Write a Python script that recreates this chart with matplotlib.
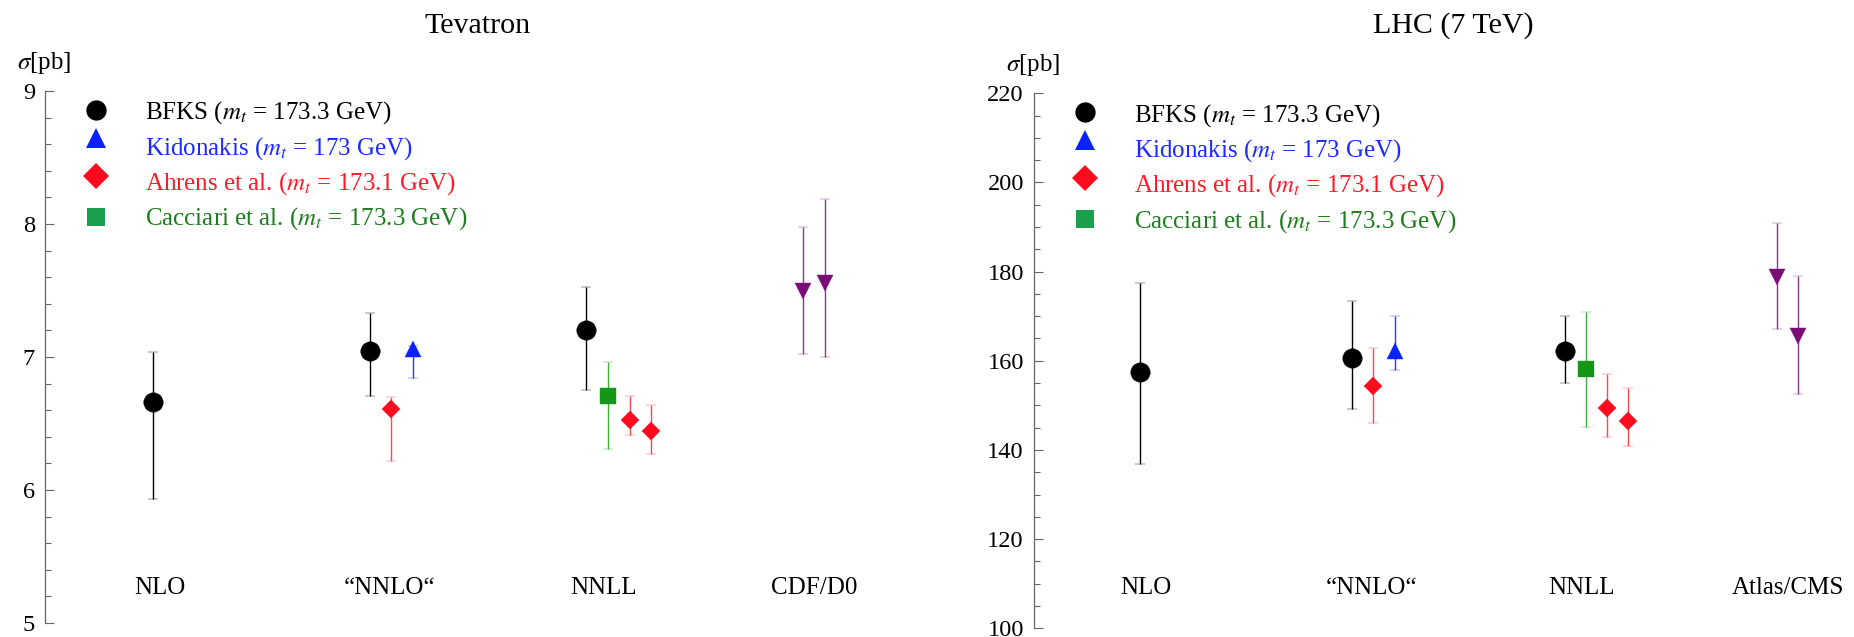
import matplotlib
matplotlib.use("Agg")
import matplotlib.pyplot as plt
from matplotlib.ticker import MultipleLocator
from matplotlib.transforms import ScaledTranslation

plt.rcParams["font.family"] = ["Liberation Serif", "DejaVu Serif"]
plt.rcParams["mathtext.fontset"] = "stix"

# category labels along the bottom, placed by hand like the original
CATS_TEV = ["NLO", "\u201cNNLO\u201c", "NNLL", "CDF/D0"]
CATS_LHC = ["NLO", "\u201cNNLO\u201c", "NNLL", "Atlas/CMS"]
CAT_POS = [1.03, 2.09, 3.08, 4.05]

LEGEND_LABELS = [
    r"BFKS ($m_t$ = 173.3 GeV)",
    r"Kidonakis ($m_t$ = 173 GeV)",
    r"Ahrens et al. ($m_t$ = 173.1 GeV)",
    r"Cacciari et al. ($m_t$ = 173.3 GeV)",
]

# --- Tevatron [pb]: x position, central value, upper edge, lower edge
TEV_BFKS_X = [1.0, 2.0, 3.0]
TEV_BFKS = [6.66, 7.045, 7.20]
TEV_BFKS_HI = [7.04, 7.33, 7.53]
TEV_BFKS_LO = [5.93, 6.71, 6.75]

TEV_KID_X = [2.2]
TEV_KID = [7.06]
TEV_KID_HI = [7.08]
TEV_KID_LO = [6.84]

TEV_AHR_X = [2.1, 3.2, 3.3]
TEV_AHR = [6.61, 6.53, 6.44]
TEV_AHR_HI = [6.70, 6.71, 6.64]
TEV_AHR_LO = [6.22, 6.41, 6.27]

TEV_CAC_X = [3.1]
TEV_CAC = [6.71]
TEV_CAC_HI = [6.965]
TEV_CAC_LO = [6.31]

TEV_EXP_X = [4.0, 4.1]
TEV_EXP = [7.50, 7.56]
TEV_EXP_HI = [7.98, 8.19]
TEV_EXP_LO = [7.02, 7.00]

# --- LHC 7 TeV [pb]
LHC_BFKS_X = [1.0, 2.0, 3.0]
LHC_BFKS = [157.5, 160.6, 162.2]
LHC_BFKS_HI = [177.5, 173.4, 170.0]
LHC_BFKS_LO = [136.8, 149.2, 155.1]

LHC_KID_X = [2.2]
LHC_KID = [162.3]
LHC_KID_HI = [170.0]
LHC_KID_LO = [157.9]

LHC_AHR_X = [2.1, 3.2, 3.3]
LHC_AHR = [154.4, 149.5, 146.5]
LHC_AHR_HI = [162.9, 157.0, 154.0]
LHC_AHR_LO = [146.0, 143.0, 141.0]

LHC_CAC_X = [3.1]
LHC_CAC = [158.2]
LHC_CAC_HI = [170.9]
LHC_CAC_LO = [145.2]

LHC_EXP_X = [4.0, 4.1]
LHC_EXP = [178.8, 165.5]
LHC_EXP_HI = [190.8, 179.0]
LHC_EXP_LO = [167.1, 152.5]

STYLE = {
    "bfks": dict(marker="o", ms=14.0, color="black", ecolor="black"),
    "kid": dict(marker="^", ms=11.3, color="#0a22ff", ecolor="#1f3cff"),
    "ahr": dict(marker="D", ms=9.5, color="#ff0a1e", ecolor="#ff4452"),
    "cac": dict(marker="s", ms=11.8, color="#149619", ecolor="#40ac40"),
    "exp": dict(marker="v", ms=11.3, color="#7a0c7a", ecolor="#8e348e"),
}
LEG_STYLE = [
    dict(marker="o", ms=14.6, color="black", text="black"),
    dict(marker="^", ms=14.6, color="#0a22ff", text="#1a2aff"),
    dict(marker="D", ms=13.0, color="#ff0a1e", text="#ff1a28"),
    dict(marker="s", ms=13.0, color="#1aa04c", text="#1c7d1c"),
]
# legend offsets in px from the top-left corner of each axes
LEG_MARK_DX = 51
LEG_TEXT_DX = 100
LEG_MARK_DY = [19, 47, 85, 126]
LEG_TEXT_DY = [28, 63.5, 98.4, 134]
PX = 0.72  # points per pixel at dpi 100


def draw(ax, x, y, hi, lo, key):
    st = STYLE[key]
    yerr = [[v - l for v, l in zip(y, lo)], [h - v for v, h in zip(y, hi)]]
    ax.errorbar(x, y, yerr=yerr, fmt=st["marker"], ms=st["ms"],
                color=st["color"], mec=st["color"], mew=0.3,
                ecolor=st["ecolor"], elinewidth=1.0, capsize=3.9,
                capthick=1.0, zorder=3)


def style_axes(ax, ylim, major, minor, cats, label_y):
    ax.set_xlim(0.5, 4.5)
    ax.set_ylim(*ylim)
    for s in ("top", "right", "bottom"):
        ax.spines[s].set_visible(False)
    ax.spines["left"].set_color("#666666")
    ax.spines["left"].set_linewidth(0.9)
    ax.set_xticks([])
    ax.yaxis.set_major_locator(MultipleLocator(major))
    ax.yaxis.set_minor_locator(MultipleLocator(minor))
    ax.tick_params(axis="y", which="major", direction="in", length=6.5,
                   width=0.8, color="#666666", labelsize=17.6, pad=7)
    ax.tick_params(axis="y", which="minor", direction="in", length=4,
                   width=0.8, color="#666666")
    ax.text(-0.001, 1.053, r"$\sigma$[pb]", transform=ax.transAxes,
            ha="center", va="center", fontsize=18)
    for xc, lab in zip(CAT_POS, cats):
        ax.text(xc, label_y, lab, ha="center", va="center", fontsize=18)

    # hand-made legend: marker + coloured text
    for i, (lab, ls) in enumerate(zip(LEGEND_LABELS, LEG_STYLE)):
        off = ScaledTranslation(LEG_MARK_DX * PX / 72, -LEG_MARK_DY[i] * PX / 72,
                                ax.figure.dpi_scale_trans)
        ax.plot([0], [1], transform=ax.transAxes + off, ls="none",
                marker=ls["marker"], ms=ls["ms"], color=ls["color"],
                mew=0, clip_on=False)
        ax.annotate(lab, xy=(0, 1), xycoords="axes fraction",
                    xytext=(LEG_TEXT_DX * PX, -LEG_TEXT_DY[i] * PX),
                    textcoords="offset points", ha="left", va="baseline",
                    fontsize=18, color=ls["text"])


fig = plt.figure(figsize=(18.54, 6.37), dpi=100)
ax1 = fig.add_axes([0.02411, 0.02198, 0.4675, 0.8351])
ax2 = fig.add_axes([0.5575, 0.01366, 0.4583, 0.8399])

draw(ax1, TEV_BFKS_X, TEV_BFKS, TEV_BFKS_HI, TEV_BFKS_LO, "bfks")
draw(ax1, TEV_AHR_X, TEV_AHR, TEV_AHR_HI, TEV_AHR_LO, "ahr")
draw(ax1, TEV_KID_X, TEV_KID, TEV_KID_HI, TEV_KID_LO, "kid")
draw(ax1, TEV_CAC_X, TEV_CAC, TEV_CAC_HI, TEV_CAC_LO, "cac")
draw(ax1, TEV_EXP_X, TEV_EXP, TEV_EXP_HI, TEV_EXP_LO, "exp")
style_axes(ax1, (5, 9), 1, 0.2, CATS_TEV, 5.26)

draw(ax2, LHC_BFKS_X, LHC_BFKS, LHC_BFKS_HI, LHC_BFKS_LO, "bfks")
draw(ax2, LHC_AHR_X, LHC_AHR, LHC_AHR_HI, LHC_AHR_LO, "ahr")
draw(ax2, LHC_KID_X, LHC_KID, LHC_KID_HI, LHC_KID_LO, "kid")
draw(ax2, LHC_CAC_X, LHC_CAC, LHC_CAC_HI, LHC_CAC_LO, "cac")
draw(ax2, LHC_EXP_X, LHC_EXP, LHC_EXP_HI, LHC_EXP_LO, "exp")
style_axes(ax2, (100, 220), 20, 5, CATS_LHC, 109.0)

fig.text(0.2576, 0.948, "Tevatron", ha="center", va="baseline", fontsize=21.6)
fig.text(0.7837, 0.948, "LHC (7 TeV)", ha="center", va="baseline", fontsize=21.6)

fig.savefig("out.png", dpi=100)
